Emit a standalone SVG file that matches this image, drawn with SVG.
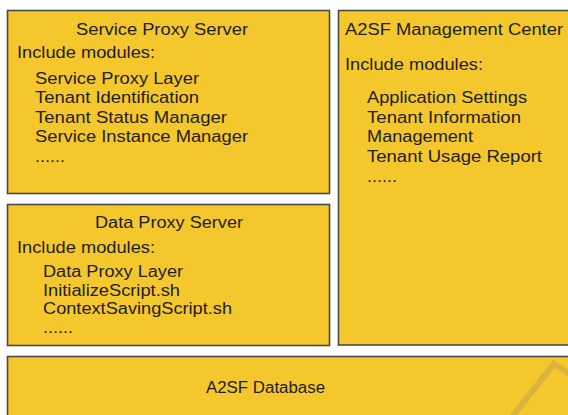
<svg xmlns="http://www.w3.org/2000/svg" width="568" height="415" viewBox="0 0 568 415">
<style>
.box{fill:#F4C72C;stroke:#4a4a4a;stroke-width:1.6}
.t{font-family:"Liberation Sans",Arial,sans-serif;font-size:16px;fill:#1e1e1e}
.c{text-anchor:middle}
</style>
<rect width="568" height="415" fill="#ffffff"/>
<g id="service-proxy-server">
<rect class="box" x="7.5" y="10.5" width="322" height="183"/>
<text class="t" x="76" y="35" textLength="172" lengthAdjust="spacingAndGlyphs">Service Proxy Server</text>
<text class="t" x="17" y="58" textLength="138" lengthAdjust="spacingAndGlyphs">Include modules:</text>
<text class="t" x="35" y="84" textLength="164" lengthAdjust="spacingAndGlyphs">Service Proxy Layer</text>
<text class="t" x="35" y="103" textLength="164" lengthAdjust="spacingAndGlyphs">Tenant Identification</text>
<text class="t" x="35" y="123" textLength="192" lengthAdjust="spacingAndGlyphs">Tenant Status Manager</text>
<text class="t" x="35" y="142" textLength="213" lengthAdjust="spacingAndGlyphs">Service Instance Manager</text>
<text class="t" x="35" y="162" textLength="30" lengthAdjust="spacingAndGlyphs">......</text>
</g>
<g id="management-center">
<rect class="box" x="338.5" y="10.5" width="235" height="334.5"/>
<text class="t" x="345" y="35" textLength="218" lengthAdjust="spacingAndGlyphs">A2SF Management Center</text>
<text class="t" x="345" y="70" textLength="138" lengthAdjust="spacingAndGlyphs">Include modules:</text>
<text class="t" x="367" y="103" textLength="160" lengthAdjust="spacingAndGlyphs">Application Settings</text>
<text class="t" x="367" y="123" textLength="154" lengthAdjust="spacingAndGlyphs">Tenant Information</text>
<text class="t" x="367" y="142" textLength="106" lengthAdjust="spacingAndGlyphs">Management</text>
<text class="t" x="367" y="162" textLength="175" lengthAdjust="spacingAndGlyphs">Tenant Usage Report</text>
<text class="t" x="367" y="182" textLength="30" lengthAdjust="spacingAndGlyphs">......</text>
</g>
<g id="data-proxy-server">
<rect class="box" x="7.5" y="204.5" width="322" height="141"/>
<text class="t" x="95" y="228" textLength="148" lengthAdjust="spacingAndGlyphs">Data Proxy Server</text>
<text class="t" x="17" y="253" textLength="138" lengthAdjust="spacingAndGlyphs">Include modules:</text>
<text class="t" x="43" y="277" textLength="140" lengthAdjust="spacingAndGlyphs">Data Proxy Layer</text>
<text class="t" x="43" y="296" textLength="137" lengthAdjust="spacingAndGlyphs">InitializeScript.sh</text>
<text class="t" x="43" y="314" textLength="189" lengthAdjust="spacingAndGlyphs">ContextSavingScript.sh</text>
<text class="t" x="43" y="333" textLength="30" lengthAdjust="spacingAndGlyphs">......</text>
</g>
<g id="a2sf-database">
<rect class="box" x="7.5" y="356.5" width="570" height="70"/>
<text class="t" x="206" y="393" textLength="119" lengthAdjust="spacingAndGlyphs">A2SF Database</text>
</g>
<g id="connectors"></g>
<path d="M512 417 L554 364 L572 375" fill="none" stroke="#9a8a6a" stroke-opacity="0.3" stroke-width="6"/>
</svg>
